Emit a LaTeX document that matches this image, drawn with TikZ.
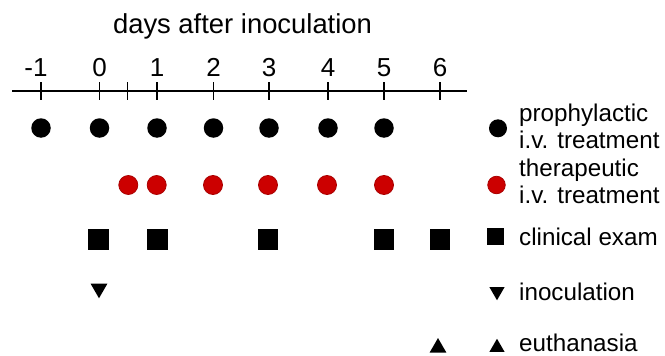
\documentclass[tikz,border=0pt]{standalone}
\usepackage{fontspec}
\setmainfont{Liberation Sans}
\usetikzlibrary{shapes.geometric}
\definecolor{redmark}{RGB}{204,0,0}
\definecolor{rededge}{RGB}{170,0,0}
\tikzset{
  dot/.style={circle,fill=black,inner sep=0pt,minimum size=19.5pt},
  reddot/.style={circle,fill=redmark,draw=rededge,line width=0.8pt,inner sep=0pt,minimum size=19pt},
  sq/.style={rectangle,fill=black,inner sep=0pt,minimum size=20.5pt},
  tridown/.style={regular polygon,regular polygon sides=3,shape border rotate=180,fill=black,inner sep=0pt,minimum size=19.5pt},
  triup/.style={regular polygon,regular polygon sides=3,fill=black,inner sep=0pt,minimum size=19.5pt},
  daylabel/.style={anchor=base,inner sep=0pt,font=\fontsize{26}{30}\selectfont},
  legone/.style={anchor=base west,inner sep=0pt,font=\fontsize{24.2}{26.7}\selectfont},
  legtext/.style={legone,align=left},
  axisline/.style={line width=1.8pt},
  tick/.style={line width=1.6pt}
}
\begin{document}
\begin{tikzpicture}[x=1pt,y=-1pt]
\useasboundingbox (0,0) rectangle (665,356);
% title
\node[anchor=base,inner sep=0pt,font=\fontsize{27.4}{31}\selectfont] (title) at (242.5,33.3) {days after inoculation};
% axis
\coordinate (axL) at (12,91);
\coordinate (axR) at (467,91);
\draw[axisline] (axL) -- (axR);
\foreach \n/\x in {m1/41,d0/99.5,dh/127.5,d1/157,d2/213.5,d3/269,d4/328,d5/384,d6/440}{
  \coordinate (t\n top) at (\x,82);
  \coordinate (t\n bot) at (\x,99.5);
  \draw[tick] (t\n top) -- (t\n bot);
}
% day labels
\node[daylabel] (lm1) at (36,76.5) {-1};
\foreach \n/\x/\t in {0/99.7/0,1/157/1,2/213.5/2,3/269/3,4/328/4,5/384/5,6/440/6}{
  \node[daylabel] (l\n) at (\x,76.5) {\t};
}
% prophylactic row
\foreach \n/\x in {m1/41,0/99.5,1/157,2/213.5,3/269,4/328,5/384}{
  \node[dot] (p\n) at (\x,128) {};
}
% therapeutic row
\foreach \n/\x in {h/128.3,1/156.7,2/213,3/268,4/327,5/384}{
  \node[reddot] (r\n) at (\x,185) {};
}
% clinical exam row
\foreach \n/\x in {0/98.7,1/157.7,3/268,5/384,6/440}{
  \node[sq] (c\n) at (\x,239.3) {};
}
% inoculation / euthanasia
\node[tridown] (inoc) at (99,288.5) {};
\node[triup] (euth) at (438,347.8) {};
% legend
\node[dot,minimum size=18pt] (kp) at (498,128.3) {};
\node[legtext] (kpt) at (519,148.3) {prophylactic\\i.v. treatment};
\node[reddot,minimum size=17.5pt] (kr) at (496.5,185) {};
\node[legtext] (krt) at (519,203.3) {therapeutic\\i.v. treatment};
\node[sq,minimum size=17pt] (kc) at (495,236) {};
\node[legone] (kct) at (519,245) {clinical exam};
\node[tridown,minimum size=17.5pt] (ki) at (497,291.5) {};
\node[legone] (kit) at (519,300.5) {inoculation};
\node[triup,minimum size=17.5pt] (ke) at (497,347.5) {};
\node[legone] (ket) at (519,351.5) {euthanasia};
\end{tikzpicture}
\end{document}
